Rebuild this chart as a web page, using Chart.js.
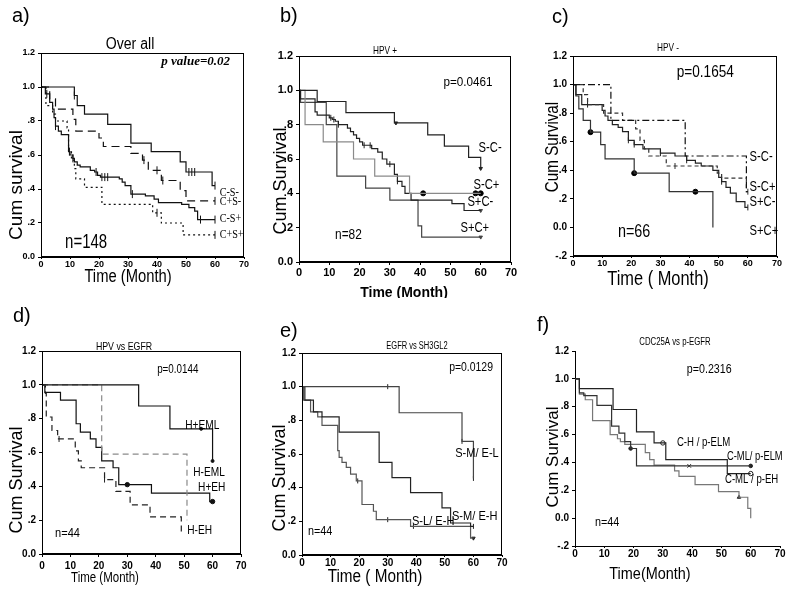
<!DOCTYPE html>
<html>
<head>
<meta charset="utf-8">
<script src="https://cdn.jsdelivr.net/npm/chart.js@4/dist/chart.umd.min.js"></script>
<style>
  html, body { margin: 0; padding: 0; background: #fff; }
  #page { position: relative; width: 788px; height: 598px; overflow: hidden; }
  canvas { position: absolute; }
</style>
</head>
<body>
<div id="page">
  <canvas id="pa" width="262" height="298" style="left:0;top:0"></canvas>
  <canvas id="pb" width="262" height="298" style="left:262px;top:0"></canvas>
  <canvas id="pc" width="264" height="298" style="left:524px;top:0"></canvas>
  <canvas id="pd" width="262" height="300" style="left:0;top:298px"></canvas>
  <canvas id="pe" width="262" height="300" style="left:262px;top:298px"></canvas>
  <canvas id="pf" width="264" height="300" style="left:524px;top:298px"></canvas>
</div>
<script>
// tick labels
const xTicks = [0, 10, 20, 30, 40, 50, 60, 70];
const yTicks = [-0.2, 0, 0.2, 0.4, 0.6, 0.8, 1.0, 1.2];
const yTickText = ['-.2', '0.0', '.2', '.4', '.6', '.8', '1.0', '1.2'];

// a) Over all  (time in months, cumulative survival, censor times)
const aCSnegT = [0, 11.5, 12.5, 15, 23, 31, 38, 48, 50, 59, 60];
const aCSnegS = [1, .95, .89, .84, .78, .67, .62, .56, .50, .42, .42];
const aCSnegC = [11.5, 51, 52, 53, 60];
const aCpSnegT = [0, 3, 5, 11, 12, 20, 21.5, 31, 35, 37, 41.5, 48, 50, 60];
const aCpSnegS = [1, .93, .87, .81, .74, .70, .65, .61, .57, .51, .45, .39, .33, .33];
const aCpSnegC = [35.5, 40, 42, 60];
const aCSposT = [0, 1.5, 3, 4, 4.5, 5, 6, 7, 9.5, 10, 11, 11.5, 12.5, 13.5, 17, 18.5, 19.5, 20.5, 27, 28, 29, 31, 36, 39, 40.5, 48.5, 51, 53, 54, 60];
const aCSposS = [1, .96, .91, .87, .82, .77, .74, .72, .62, .60, .58, .56, .54, .53, .51, .50, .48, .47, .46, .44, .42, .37, .36, .34, .32, .31, .29, .27, .22, .22];
const aCSposC = [2, 5, 9.8, 11, 19, 21, 22, 23, 31.5, 55, 60];
const aCpSposT = [0, 1.7, 4, 5, 9, 9.5, 10.5, 11.5, 12, 15, 21, 38.5, 41.5, 49, 60];
const aCpSposS = [1, .89, .84, .80, .76, .62, .57, .52, .46, .41, .31, .26, .20, .13, .13];
const aCpSposC = [40, 60];

// b) HPV +
const bSnCnT = [0, 6, 15.5, 31.5, 42.5, 48, 56, 60];
const bSnCnS = [1, .935, .87, .81, .74, .675, .61, .545];
const bSnCnC = [32, 60];
const bSnCpT = [0, 2, 8, 18, 25, 36.5, 60];
const bSnCpS = [1, .80, .70, .60, .50, .40, .40];
const bSnCpC = [41, 58.3, 60];
const bSpCnT = [0, 0.5, 5.3, 6, 10, 11, 12, 13, 16, 17, 18, 19, 20, 21, 24, 26, 27.5, 29, 31.5, 32.5, 34, 35, 37, 50.5, 54.5, 60];
const bSpCnS = [1, .95, .875, .856, .84, .83, .82, .80, .78, .76, .74, .72, .70, .68, .66, .64, .60, .57, .51, .47, .44, .40, .36, .34, .30, .30];
const bSpCnC = [10.5, 11.5, 13, 21.5, 23.5, 30, 32.5];
const bSpCpT = [0, 0.5, 9, 12.5, 22, 30, 39.3, 40.5, 60];
const bSpCpS = [1, .93, .80, .50, .43, .36, .21, .145, .145];

// c) HPV -
const cSnCnT = [0, 13, 38.5, 59.5, 60];
const cSnCnS = [1, .75, .50, .25, .25];
const cSnCpT = [0, 3.5, 5, 10.5, 17, 21.5, 23, 24.5, 26, 32, 49.5, 51, 59.5, 60];
const cSnCpS = [1, .93, .86, .80, .75, .69, .61, .55, .50, .43, .38, .345, .25, .25];
const cSnCpC = [35, 60];
const cSpCnT = [0, 1, 3, 10, 11, 12, 13.5, 15.5, 17, 19, 21, 24, 30, 35, 39, 42, 44, 48, 50, 51, 52.5, 54, 56, 59, 60];
const cSpCnS = [1, .93, .86, .82, .78, .75, .72, .70, .67, .61, .58, .55, .52, .50, .47, .45, .43, .40, .35, .32, .28, .24, .18, .14, .14];
const cSpCnC = [5, 19, 21, 30, 39, 51, 60];
const cSpCpT = [0, 1, 2, 3.5, 6, 9.5, 11, 21, 33, 48];
const cSpCpS = [1, .92, .83, .75, .667, .58, .48, .38, .25, 0];
const cSpCpC = [6, 21, 42];

// d) HPV vs EGFR
const dHpEmlT = [0, 34, 45, 60];
const dHpEmlS = [1, .875, .74, .55];
const dHpEmlC = [56, 60];
const dHnEmlT = [0, 21, 51];
const dHnEmlS = [1, .59, .20];
const dHpEhT = [0, 1, 6.5, 12, 13.5, 17, 19, 21, 25, 27, 38.5, 59, 60];
const dHpEhS = [1, .955, .91, .77, .72, .68, .63, .55, .51, .41, .36, .31, .31];
const dHpEhC = [30, 60];
const dHnEhT = [0, 1.2, 1.5, 3.5, 5.5, 11.7, 12.8, 13.8, 22, 26, 31, 38, 49];
const dHnEhS = [1, .95, .81, .73, .68, .61, .55, .51, .44, .37, .29, .22, .13];
const dHnEhC = [6, 22];

// e) EGFR vs SH3GL2
const eSmElT = [0, 34, 56, 60];
const eSmElS = [1, .845, .675, .455];
const eSmElC = [30, 56, 60];
const eSmEhT = [0, 1, 4, 7, 13, 27, 31.5, 38, 49, 52, 59, 60];
const eSmEhS = [1, .92, .85, .82, .73, .55, .46, .37, .28, .19, .17, .17];
const eSmEhC = [60];
const eSlEhT = [0, 0.5, 3, 5.5, 7, 12.5, 13, 14, 15.5, 17, 19, 21, 25, 26, 38, 59, 60];
const eSlEhS = [1, .92, .85, .82, .77, .62, .58, .55, .52, .48, .44, .30, .26, .21, .17, .10, .10];
const eSlEhC = [19.5, 30, 39];

// f) CDC25A vs p-EGFR
const fChPelmT = [0, 1.5, 13, 21, 27, 31, 52, 60];
const fChPelmS = [1, .93, .78, .62, .54, .42, .32, .32];
const fChPelmC = [30, 60];
const fCmlPelmT = [0, 1.5, 3, 7.5, 12.5, 15, 17, 19, 21, 60];
const fCmlPelmS = [1, .90, .88, .81, .66, .61, .55, .50, .375, .375];
const fCmlPelmC = [19, 60];
const fCmlPelmX = [39];
const fCmlPehT = [0, 1.5, 3.5, 6, 12, 14.5, 15.5, 17, 24, 25.5, 27, 34, 35.5, 41, 49, 56, 59, 60];
const fCmlPehS = [1, .89, .85, .70, .60, .57, .55, .53, .47, .42, .38, .34, .30, .24, .19, .15, .07, 0];
const fCmlPehC = [56];

const SANS = '"Liberation Sans", Arial, sans-serif';
const SERIF = '"Liberation Serif", "Times New Roman", serif';

function survAt(t, s, x) {
    let v = s[0];
    for (let i = 0; i < t.length; i++) if (t[i] <= x) v = s[i];
    return v;
}

function curve(t, s, color, dash) {
    return {
        data: t.map((x, i) => ({ x: x, y: s[i] })),
        borderColor: color, borderWidth: 1.2, borderDash: dash || [],
        stepped: 'before', pointRadius: 0, pointHoverRadius: 0, fill: false
    };
}

function marks(t, s, times, style, color, r, rot, filled) {
    return {
        data: times.map(x => ({ x: x, y: survAt(t, s, x) })),
        showLine: false, pointStyle: style, pointRadius: r, pointHoverRadius: r,
        rotation: rot || 0, borderColor: color, borderWidth: 1,
        backgroundColor: filled ? color : '#fff'
    };
}

function drawText(ctx, s, x, y, font, o) {
    ctx.save();
    ctx.translate(x, y);
    if (o.rot) ctx.rotate(o.rot * Math.PI / 180);
    ctx.scale(o.sx || 1, 1);
    ctx.font = font;
    ctx.fillStyle = '#000';
    ctx.textAlign = o.align || 'center';
    ctx.textBaseline = 'middle';
    ctx.fillText(s, 0, 0);
    ctx.restore();
}

function textPlugin(p) {
    return {
        id: 'txt_' + p.id,
        afterDraw(chart) {
            const ctx = chart.ctx, xs = chart.scales.x, ys = chart.scales.y, a = chart.chartArea;
            if (p.box) {
                ctx.save();
                ctx.strokeStyle = '#000';
                ctx.lineWidth = 1;
                ctx.strokeRect(Math.round(a.left) + 0.5, Math.round(a.top) + 0.5,
                    Math.round(a.right - a.left) - 1, Math.round(a.bottom - a.top) - 1);
                ctx.restore();
            }
            p.notes.forEach(n => drawText(ctx, n.t, xs.getPixelForValue(n.x), ys.getPixelForValue(n.y),
                n.font, { align: n.align || 'left', sx: n.sx }));
            p.texts.forEach(n => drawText(ctx, n.t, n.x - p.x0, n.y - p.y0, n.font,
                { align: n.align, sx: n.sx, rot: n.rot }));
        }
    };
}

function makePanel(p) {
    const yW = p.L - p.x0, xH = p.y0 + p.h - p.B;
    const tickFont = { family: SANS, size: p.tickSize || 10, weight: 'bold' };
    const xTickFont = { family: SANS, size: p.xTickSize || p.tickSize || 10, weight: 'bold' };
    new Chart(document.getElementById(p.id), {
        type: 'line',
        data: { datasets: p.datasets },
        options: {
            responsive: false, animation: false, devicePixelRatio: 1,
            layout: { padding: { top: p.T - p.y0, right: p.x0 + p.w - p.R, left: 0, bottom: 0 } },
            plugins: { legend: { display: false }, tooltip: { enabled: false } },
            scales: {
                x: {
                    type: 'linear', min: 0, max: 70,
                    afterFit: s => { s.height = xH; },
                    afterBuildTicks: s => { s.ticks = xTicks.map(v => ({ value: v })); },
                    ticks: { font: xTickFont, color: '#000', padding: p.xPad || 0, maxRotation: 0, autoSkip: false },
                    grid: { drawOnChartArea: false, tickLength: p.xTickLen || 2, color: '#000' },
                    border: { color: '#000' }
                },
                y: {
                    type: 'linear', min: p.yMin, max: 1.2,
                    afterFit: s => { s.width = yW; },
                    afterBuildTicks: s => { s.ticks = yTicks.filter(v => v >= p.yMin - 1e-9).map(v => ({ value: v })); },
                    ticks: {
                        font: tickFont, color: '#000', padding: 3, autoSkip: false,
                        callback: v => yTickText[yTicks.findIndex(u => Math.abs(u - v) < 1e-6)]
                    },
                    grid: { drawOnChartArea: false, tickLength: 3, color: '#000' },
                    border: { color: '#000' }
                }
            }
        },
        plugins: [textPlugin(p)]
    });
}

const K = '#111', G = '#8a8a8a';

makePanel({
    id: 'pa', x0: 0, y0: 0, w: 262, h: 298, L: 41, T: 53, R: 244, B: 257, yMin: 0, box: true,
    tickSize: 9, xTickLen: 2, xPad: 0,
    datasets: [
        curve(aCSnegT, aCSnegS, K),
        curve(aCpSnegT, aCpSnegS, K, [8, 5]),
        curve(aCSposT, aCSposS, K),
        curve(aCpSposT, aCpSposS, K, [2, 3]),
        marks(aCSnegT, aCSnegS, aCSnegC, 'line', K, 4, 90),
        marks(aCpSnegT, aCpSnegS, aCpSnegC, 'line', K, 4, 90),
        marks(aCSposT, aCSposS, aCSposC, 'line', K, 4, 90),
        marks(aCpSposT, aCpSposS, aCpSposC, 'line', K, 4, 90)
    ],
    notes: [
        { t: 'p value=0.02', x: 65.2, y: 1.147, font: 'bold italic 13px ' + SERIF, align: 'right' },
        { t: 'n=148', x: 8.3, y: .088, font: '20px ' + SANS, sx: .75 },
        { t: 'C-S-', x: 61.6, y: .376, font: '12px ' + SERIF, sx: .85 },
        { t: 'C+S-', x: 61.6, y: .324, font: '12px ' + SERIF, sx: .85 },
        { t: 'C-S+', x: 61.6, y: .224, font: '12px ' + SERIF, sx: .85 },
        { t: 'C+S+', x: 61.6, y: .129, font: '12px ' + SERIF, sx: .85 }
    ],
    texts: [
        { t: 'a)', x: 12, y: 16, font: '20px ' + SANS, align: 'left' },
        { t: 'Over all', x: 130, y: 45, font: '16px ' + SANS, sx: .88 },
        { t: 'Cum survival', x: 17, y: 185, font: '19px ' + SANS, rot: -90 },
        { t: 'Time (Month)', x: 128, y: 277, font: '18px ' + SANS, sx: .82 }
    ]
});

makePanel({
    id: 'pb', x0: 262, y0: 0, w: 262, h: 298, L: 299, T: 56, R: 511, B: 262, yMin: 0, box: true,
    tickSize: 11, xTickLen: 3, xPad: 1,
    datasets: [
        curve(bSnCnT, bSnCnS, '#222'),
        curve(bSnCpT, bSnCpS, G),
        curve(bSpCnT, bSpCnS, '#222'),
        curve(bSpCpT, bSpCpS, '#444'),
        marks(bSnCnT, bSnCnS, bSnCnC, 'triangle', '#222', 2, 180, true),
        marks(bSnCpT, bSnCpS, bSnCpC, 'circle', '#000', 2.5, 0, true),
        marks(bSpCnT, bSpCnS, bSpCnC, 'line', '#222', 3, 90),
        marks(bSpCnT, bSpCnS, [60], 'triangle', '#444', 2, 180, true),
        marks(bSpCpT, bSpCpS, [60], 'triangle', '#444', 2, 180, true)
    ],
    notes: [
        { t: 'p=0.0461', x: 47.7, y: 1.048, font: '13px ' + SANS, sx: .9 },
        { t: 'n=82', x: 11.9, y: .157, font: '14px ' + SANS, sx: .85 },
        { t: 'S-C-', x: 59.3, y: .664, font: '14px ' + SANS, sx: .8 },
        { t: 'S-C+', x: 57.6, y: .448, font: '14px ' + SANS, sx: .8 },
        { t: 'S+C-', x: 55.6, y: .35, font: '14px ' + SANS, sx: .8 },
        { t: 'S+C+', x: 53.3, y: .198, font: '14px ' + SANS, sx: .8 }
    ],
    texts: [
        { t: 'b)', x: 280, y: 16, font: '20px ' + SANS, align: 'left' },
        { t: 'HPV +', x: 385, y: 51, font: '11px ' + SANS, sx: .75 },
        { t: 'Cum Survival', x: 281, y: 181, font: '18px ' + SANS, rot: -90 },
        { t: 'Time (Month)', x: 404, y: 293, font: 'bold 14px ' + SANS }
    ]
});

makePanel({
    id: 'pc', x0: 524, y0: 0, w: 264, h: 298, L: 573, T: 56, R: 777, B: 256, yMin: -0.2, box: true,
    tickSize: 10, xTickSize: 9, xTickLen: 2, xPad: 0,
    datasets: [
        curve(cSnCnT, cSnCnS, K, [7, 3, 2, 3]),
        curve(cSnCpT, cSnCpS, '#333', [4, 3]),
        curve(cSpCnT, cSpCnS, '#222'),
        curve(cSpCpT, cSpCpS, '#333'),
        marks(cSnCpT, cSnCpS, cSnCpC, 'line', '#333', 3, 90),
        marks(cSpCnT, cSpCnS, cSpCnC, 'line', '#222', 3, 90),
        marks(cSpCpT, cSpCpS, cSpCpC, 'circle', '#000', 2.5, 0, true)
    ],
    notes: [
        { t: 'p=0.1654', x: 35.6, y: 1.084, font: '17px ' + SANS, sx: .8 },
        { t: 'n=66', x: 15.4, y: -.035, font: '18px ' + SANS, sx: .8 },
        { t: 'S-C-', x: 60.6, y: .49, font: '14px ' + SANS, sx: .8 },
        { t: 'S-C+', x: 60.6, y: .28, font: '14px ' + SANS, sx: .8 },
        { t: 'S+C-', x: 60.6, y: .175, font: '14px ' + SANS, sx: .8 },
        { t: 'S+C+', x: 60.6, y: -.028, font: '14px ' + SANS, sx: .8 }
    ],
    texts: [
        { t: 'c)', x: 552, y: 17, font: '20px ' + SANS, align: 'left' },
        { t: 'HPV -', x: 668, y: 48, font: '11px ' + SANS, sx: .75 },
        { t: 'Cum Survival', x: 553, y: 147, font: '19px ' + SANS, rot: -90, sx: .8 },
        { t: 'Time ( Month)', x: 658, y: 279, font: '20px ' + SANS, sx: .82 }
    ]
});

makePanel({
    id: 'pd', x0: 0, y0: 298, w: 262, h: 300, L: 42, T: 351, R: 241, B: 554, yMin: 0, box: true,
    tickSize: 10, xTickLen: 3, xPad: 3,
    datasets: [
        curve(dHpEmlT, dHpEmlS, K),
        curve(dHnEmlT, dHnEmlS, G, [6, 4]),
        curve(dHpEhT, dHpEhS, K),
        curve(dHnEhT, dHnEhS, '#222', [6, 4]),
        marks(dHpEmlT, dHpEmlS, dHpEmlC, 'circle', K, 1.5, 0, true),
        marks(dHpEhT, dHpEhS, dHpEhC, 'circle', K, 2.2, 0, true),
        marks(dHnEhT, dHnEhS, dHnEhC, 'line', '#222', 3, 90)
    ],
    notes: [
        { t: 'p=0.0144', x: 40.5, y: 1.087, font: '12px ' + SANS, sx: .82 },
        { t: 'n=44', x: 4.6, y: .124, font: '13px ' + SANS, sx: .85 },
        { t: 'H+EML', x: 50.4, y: .762, font: '13px ' + SANS, sx: .78 },
        { t: 'H-EML', x: 53.2, y: .485, font: '13px ' + SANS, sx: .78 },
        { t: 'H+EH', x: 54.9, y: .396, font: '13px ' + SANS, sx: .78 },
        { t: 'H-EH', x: 51.1, y: .142, font: '13px ' + SANS, sx: .78 }
    ],
    texts: [
        { t: 'd)', x: 13, y: 316, font: '20px ' + SANS, align: 'left' },
        { t: 'HPV vs EGFR', x: 124, y: 347, font: '11px ' + SANS, sx: .8 },
        { t: 'Cum Survival', x: 17, y: 480, font: '18px ' + SANS, rot: -90 },
        { t: 'Time (Month)', x: 105, y: 578, font: '14px ' + SANS, sx: .82 }
    ]
});

makePanel({
    id: 'pe', x0: 262, y0: 298, w: 262, h: 300, L: 302, T: 353, R: 502, B: 555, yMin: 0, box: true,
    tickSize: 10, xTickLen: 2, xPad: 0,
    datasets: [
        curve(eSmElT, eSmElS, '#444'),
        curve(eSmEhT, eSmEhS, '#222'),
        curve(eSlEhT, eSlEhS, '#555'),
        marks(eSmElT, eSmElS, eSmElC, 'line', '#222', 2.5, 90),
        marks(eSmEhT, eSmEhS, eSmEhC, 'line', '#222', 2.5, 90),
        marks(eSlEhT, eSlEhS, eSlEhC, 'line', '#222', 2.5, 90),
        marks(eSlEhT, eSlEhS, [60], 'triangle', '#222', 2, 180, true)
    ],
    notes: [
        { t: 'p=0.0129', x: 51.5, y: 1.111, font: '12px ' + SANS, sx: .87 },
        { t: 'n=44', x: 2.1, y: .137, font: '12px ' + SANS, sx: .9 },
        { t: 'S-M/ E-L', x: 53.6, y: .606, font: '13px ' + SANS, sx: .85 },
        { t: 'S-M/ E-H', x: 52.5, y: .232, font: '13px ' + SANS, sx: .85 },
        { t: 'S-L/ E-H', x: 38.5, y: .202, font: '13px ' + SANS, sx: .85 }
    ],
    texts: [
        { t: 'e)', x: 280, y: 331, font: '20px ' + SANS, align: 'left' },
        { t: 'EGFR vs SH3GL2', x: 417, y: 346, font: '10px ' + SANS, sx: .75 },
        { t: 'Cum Survival', x: 280, y: 478, font: '18px ' + SANS, rot: -90 },
        { t: 'Time ( Month)', x: 375, y: 577, font: '18px ' + SANS, sx: .85 }
    ]
});

makePanel({
    id: 'pf', x0: 524, y0: 298, w: 264, h: 300, L: 575, T: 351, R: 780, B: 546, yMin: -0.2, box: false,
    tickSize: 10, xTickLen: 2, xPad: 0,
    datasets: [
        curve(fChPelmT, fChPelmS, '#222'),
        curve(fCmlPelmT, fCmlPelmS, '#333'),
        curve(fCmlPehT, fCmlPehS, '#777'),
        marks(fChPelmT, fChPelmS, fChPelmC, 'circle', '#222', 2.2, 0, false),
        marks(fCmlPelmT, fCmlPelmS, fCmlPelmC, 'circle', '#222', 1.8, 0, true),
        marks(fCmlPelmT, fCmlPelmS, fCmlPelmX, 'crossRot', '#222', 2.5, 0),
        marks(fCmlPehT, fCmlPehS, fCmlPehC, 'triangle', '#222', 2, 0, true)
    ],
    notes: [
        { t: 'p=0.2316', x: 38.2, y: 1.065, font: '13px ' + SANS, sx: .82 },
        { t: 'n=44', x: 6.8, y: -.034, font: '12px ' + SANS, sx: .9 },
        { t: 'C-H / p-ELM', x: 34.8, y: .54, font: '12px ' + SANS, sx: .8 },
        { t: 'C-ML/ p-ELM', x: 51.9, y: .44, font: '12px ' + SANS, sx: .78 },
        { t: 'C-ML / p-EH', x: 51.2, y: .275, font: '12px ' + SANS, sx: .8 }
    ],
    texts: [
        { t: 'f)', x: 537, y: 325, font: '20px ' + SANS, align: 'left' },
        { t: 'CDC25A vs p-EGFR', x: 675, y: 342, font: '10px ' + SANS, sx: .78 },
        { t: 'Cum Survival', x: 553, y: 457, font: '17px ' + SANS, rot: -90 },
        { t: 'Time(Month)', x: 650, y: 574, font: '17px ' + SANS, sx: .85 }
    ]
});
</script>
</body>
</html>
